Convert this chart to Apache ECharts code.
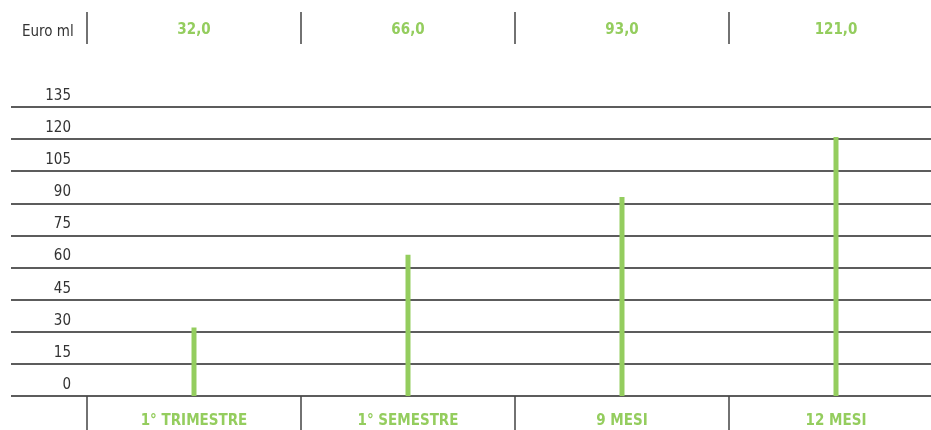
<!DOCTYPE html>
<html>
<head>
<meta charset="utf-8">
<script src="https://cdn.jsdelivr.net/npm/echarts@6/dist/echarts.min.js"></script>
<style>
html,body{margin:0;padding:0;background:#fff;}
#chart{width:931px;height:430px;}
</style>
</head>
<body>
<div id="chart"></div>
<script>
var categories = ['1° TRIMESTRE', '1° SEMESTRE', '9 MESI', '12 MESI'];
var values = [32.0, 66.0, 93.0, 121.0];
var unitLabel = 'Euro ml';
var yMin = 0, yMax = 135, yStep = 15;

var FONT = '"Liberation Sans Narrow", "DejaVu Sans Condensed", sans-serif';
var GREEN = '#94cd5e';
var DARK = '#262626';

function fmt(v){ return v.toFixed(1).replace('.', ','); }

var chart = echarts.init(document.getElementById('chart'), null, {renderer:'canvas'});
chart.setOption({
  animation: false,
  backgroundColor: '#fff',
  title: {
    text: unitLabel, left: 22, top: 25, padding: 0,
    textStyle: {fontFamily: FONT, fontSize: 15, fontWeight: 'normal', color: '#333'}
  },
  grid: [
    {left: 11, right: 0, top: 107, bottom: 34, outerBoundsMode: 'none'},
    {left: 87, width: 856, top: 107, bottom: 34, outerBoundsMode: 'none', containLabel: false}
  ],
  yAxis: [
    {
      gridIndex: 0, type: 'value', min: yMin, max: yMax, interval: yStep,
      axisLine: {show: false}, axisTick: {show: false},
      splitLine: {show: true, lineStyle: {color: DARK, width: 1.5}},
      axisLabel: {
        margin: -60, color: '#333', fontFamily: FONT, fontSize: 15,
        verticalAlign: 'bottom', lineHeight: 16, padding: [0,0,3,0]
      }
    },
    {gridIndex: 1, type: 'value', min: yMin, max: yMax, show: false}
  ],
  xAxis: [
    {gridIndex: 0, type: 'category', data: categories, show: false},
    {
      gridIndex: 1, type: 'category', data: categories, position: 'bottom',
      axisLine: {show: false},
      axisTick: {show: true, length: 34, lineStyle: {color: '#444', width: 1.5}},
      axisLabel: {margin: 18, color: GREEN, fontFamily: FONT, fontSize: 15, fontWeight: 'bold'},
      splitLine: {show: false}
    },
    {
      gridIndex: 1, type: 'category', data: categories, position: 'top', offset: 63,
      axisLine: {show: false},
      axisTick: {show: true, length: 32, lineStyle: {color: '#444', width: 1.5}},
      axisLabel: {
        margin: 6, color: GREEN, fontFamily: FONT, fontSize: 15, fontWeight: 'bold',
        formatter: function(v, i){ return fmt(values[i]); }
      },
      splitLine: {show: false}
    }
  ],
  series: [{
    type: 'bar', xAxisIndex: 1, yAxisIndex: 1,
    data: values, barWidth: 5,
    itemStyle: {color: GREEN}
  }]
});
</script>
</body>
</html>
